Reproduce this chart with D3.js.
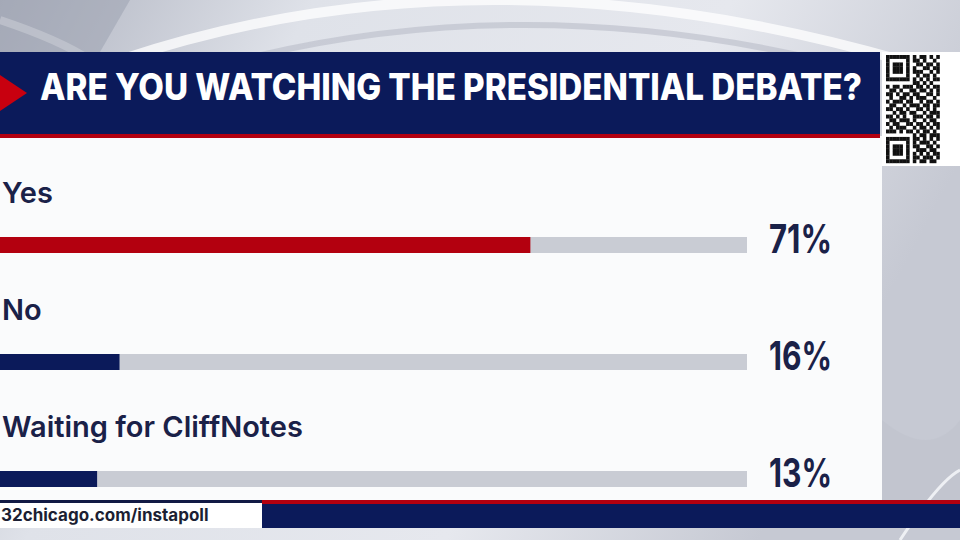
<!DOCTYPE html>
<html>
<head>
<meta charset="utf-8">
<script src="https://cdn.jsdelivr.net/npm/d3@7"></script>
<style>
  html, body { margin: 0; padding: 0; background: #c9ccd5; }
  svg { display: block; }
</style>
</head>
<body>
<svg id="chart" width="960" height="540"></svg>
<script>
// ---- data ----
const title = "ARE YOU WATCHING THE PRESIDENTIAL DEBATE?";
const categories = ["Yes", "No", "Waiting for CliffNotes"];
const values = [71, 16, 13];
const valueLabels = ["71%", "16%", "13%"];
const footerText = "32chicago.com/instapoll";

// ---- styles ----
const NAVY = "#0b1a5a";
const RED = "#b3000f";
const TEXT = "#1a2148";
const TRACK = "#c9ccd4";
const barColors = [RED, NAVY, NAVY];

const svg = d3.select("#chart");
const defs = svg.append("defs");

// background
const bg = defs.append("linearGradient").attr("id", "bg").attr("x1", 0).attr("y1", 0).attr("x2", 1).attr("y2", 0.3);
bg.append("stop").attr("offset", "0").attr("stop-color", "#aeb2bf");
bg.append("stop").attr("offset", "0.3").attr("stop-color", "#dfe2e9");
bg.append("stop").attr("offset", "0.7").attr("stop-color", "#e6e8ee");
bg.append("stop").attr("offset", "1").attr("stop-color", "#c6c9d3");
svg.append("rect").attr("width", 960).attr("height", 540).attr("fill", "url(#bg)");

// decorative swooshes
const arcs = svg.append("g").attr("fill", "none");
arcs.append("path").attr("d", "M 120 60 Q 480 -60 900 60").attr("stroke", "#ffffff").attr("stroke-opacity", 0.75).attr("stroke-width", 10);
arcs.append("path").attr("d", "M 240 60 Q 520 -10 820 60").attr("stroke", "#b9bcc8").attr("stroke-opacity", 0.6).attr("stroke-width", 6);
arcs.append("path").attr("d", "M 0 20 Q 60 40 90 60").attr("stroke", "#ffffff").attr("stroke-opacity", 0.6).attr("stroke-width", 8);
svg.append("path").attr("d", "M 0 0 L 130 0 L 100 52 L 0 52 Z").attr("fill", "#9da2b1").attr("opacity", 0.55);
svg.append("path").attr("d", "M 882 420 Q 930 460 960 420 L 960 500 L 882 500 Z").attr("fill", "#bfc3cd").attr("opacity", 0.6);
svg.append("path").attr("d", "M 900 540 Q 940 480 960 470").attr("fill", "none").attr("stroke", "#eef0f4").attr("stroke-width", 3);

// white panel
svg.append("rect").attr("x", 0).attr("y", 136).attr("width", 882).attr("height", 366).attr("fill", "#fafbfc");

// title banner
svg.append("rect").attr("x", 0).attr("y", 52).attr("width", 880).attr("height", 83).attr("fill", NAVY);
svg.append("rect").attr("x", 0).attr("y", 134).attr("width", 880).attr("height", 4).attr("fill", RED);
svg.append("path").attr("d", "M 0 75 L 27 93 L 0 111 Z").attr("fill", "#c8000f");
svg.append("text")
  .attr("x", 40).attr("y", 100)
  .attr("font-family", "Inter, 'Open Sans', sans-serif")
  .attr("font-weight", 800)
  .attr("font-size", 37)
  .attr("fill", "#ffffff")
  .attr("textLength", 822)
  .attr("lengthAdjust", "spacingAndGlyphs")
  .text(title);

// QR code (decorative)
const qrRows = [
  "1111111010110101",
  "1000001011010010",
  "1011101001101101",
  "1011101010011011",
  "1011101011100101",
  "1000001001011010",
  "1111111010101011",
  "0000000011010100",
  "1011011101101011",
  "0110100110110101",
  "1101011011001101",
  "0100110101110010",
  "1011101100101101",
  "0110010111011011",
  "1101101001101010",
  "0010110110010111",
  "1101010011101101",
  "0110111010010110",
  "1011001101101011",
  "0101110010110101",
  "1110101101011010",
  "0000000010110111",
  "1111111011010101",
  "1000001010111010",
  "1011101011001101",
  "1011101001110110",
  "1011101010101011",
  "1000001011011101",
  "1111111010110110"
];
svg.append("rect").attr("x", 882).attr("y", 52).attr("width", 78).attr("height", 114).attr("fill", "#ffffff");
const qr = svg.append("g").attr("transform", "translate(886,55)");
const mw = 3.35, mh = 108 / qrRows.length;
qrRows.forEach((row, r) => {
  row.split("").forEach((c, k) => {
    if (c === "1") qr.append("rect").attr("x", k * mw).attr("y", r * mh).attr("width", mw + 0.2).attr("height", mh + 0.2).attr("fill", "#111");
  });
});

// scales
const x = d3.scaleLinear().domain([0, 100]).range([0, 747]);
const yBar = d3.scalePoint().domain(categories).range([237, 471]);
const color = d3.scaleOrdinal().domain(categories).range(barColors);
const barH = 16;

const rows = svg.append("g").selectAll("g").data(categories).join("g");

rows.append("rect")
  .attr("x", x(0)).attr("y", d => yBar(d))
  .attr("width", x(100) - x(0)).attr("height", barH)
  .attr("fill", TRACK);

rows.append("rect")
  .attr("x", x(0)).attr("y", d => yBar(d))
  .attr("width", (d, i) => x(values[i]) - x(0)).attr("height", barH)
  .attr("fill", d => color(d));

rows.append("text")
  .attr("x", 2).attr("y", d => yBar(d) - 34)
  .attr("font-family", "Inter, 'Open Sans', sans-serif")
  .attr("font-weight", 600)
  .attr("font-size", 29)
  .attr("fill", TEXT)
  .text(d => d);

rows.append("text")
  .attr("x", 769).attr("y", d => yBar(d) + 16)
  .attr("font-family", "Inter, 'Open Sans', sans-serif")
  .attr("font-weight", 700)
  .attr("font-size", 40)
  .attr("textLength", 63)
  .attr("lengthAdjust", "spacingAndGlyphs")
  .attr("fill", TEXT)
  .text((d, i) => valueLabels[i]);

// footer
svg.append("rect").attr("x", 0).attr("y", 500).attr("width", 262).attr("height", 3).attr("fill", "#121a45");
svg.append("rect").attr("x", 0).attr("y", 503).attr("width", 262).attr("height", 25).attr("fill", "#ffffff");
svg.append("rect").attr("x", 262).attr("y", 500).attr("width", 698).attr("height", 4).attr("fill", RED);
svg.append("rect").attr("x", 262).attr("y", 504).attr("width", 698).attr("height", 24).attr("fill", NAVY);
svg.append("text")
  .attr("x", 1).attr("y", 521)
  .attr("font-family", "Inter, 'Open Sans', sans-serif")
  .attr("font-weight", 700)
  .attr("font-size", 17)
  .attr("fill", "#1c1f33")
  .text(footerText);
</script>
</body>
</html>
